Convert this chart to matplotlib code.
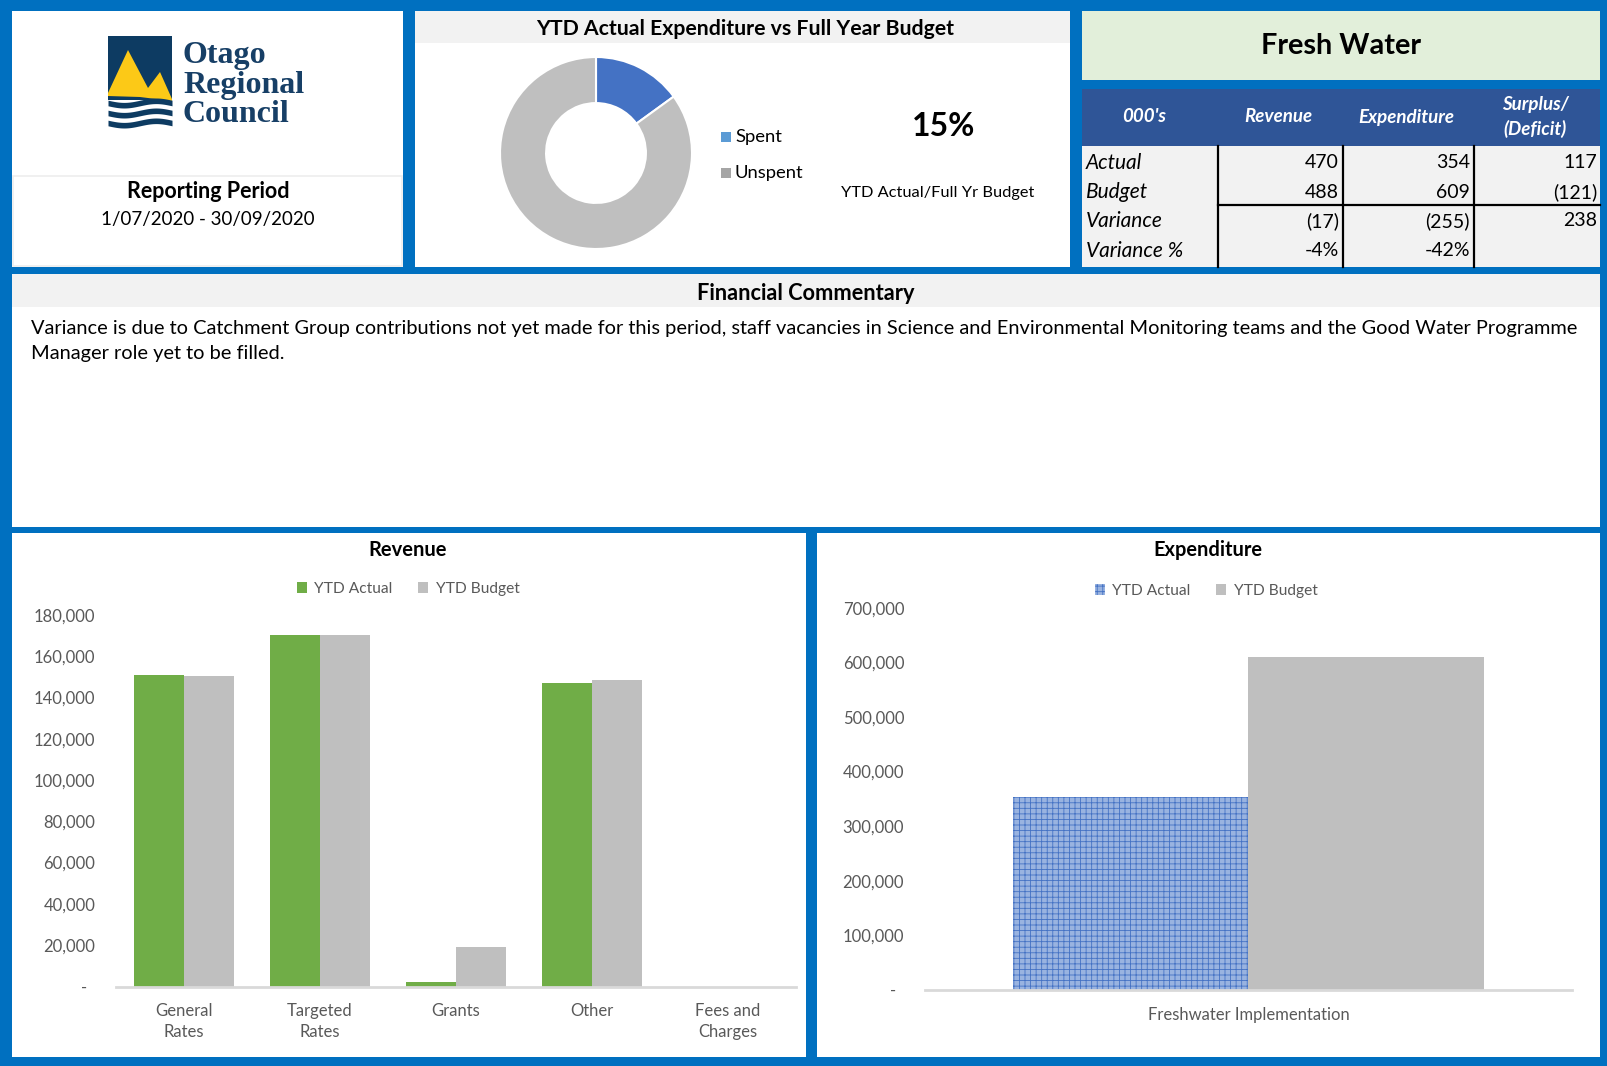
import numpy as np
import matplotlib.pyplot as plt
from matplotlib.patches import Rectangle, Polygon

#font close to the Calibri look of the original sheet
plt.rcParams['font.family'] = ['Lato', 'DejaVu Sans']
plt.rcParams['hatch.linewidth'] = 0.6

#revenue chart data (dollars)
rev_categories = ['General\nRates', 'Targeted\nRates', 'Grants', 'Other',
                  'Fees and\nCharges']
rev_actual = [151000, 170300, 2000, 147000, 0]
rev_budget = [150500, 170000, 19000, 148300, 0]

#expenditure chart data (dollars)
exp_categories = ['Freshwater Implementation']
exp_actual = [354000]
exp_budget = [609000]

#donut - ytd actual against full year budget (%)
donut_labels = ['Spent', 'Unspent']
donut_values = [15, 85]

#summary table (000's)
table_header = ["000's", 'Revenue', 'Expenditure', 'Surplus/\n(Deficit)']
table_rows = ['Actual', 'Budget', 'Variance', 'Variance %']
table_revenue = ['470', '488', '(17)', '-4%']
table_expenditure = ['354', '609', '(255)', '-42%']
table_surplus = ['117', '(121)', '238', '']

commentary = ('Variance is due to Catchment Group contributions not yet made '
              'for this period, staff vacancies in Science and Environmental '
              'Monitoring teams and the Good Water Programme\n'
              'Manager role yet to be filled.')

BLUE = '#0070C0'
LIGHT = '#F2F2F2'
GREEN = '#70AD47'
GREY = '#BFBFBF'
TICK = '#595959'
NAVY = '#173F66'

W, H = 1608, 1066
fig = plt.figure(figsize=(W/100, H/100), dpi=100)
fig.patch.set_facecolor(BLUE)

#background axes in pixel units (y down) for the panels and text
bg = fig.add_axes([0, 0, 1, 1])
bg.set_xlim(0, W)
bg.set_ylim(H, 0)
bg.axis('off')


def box(x0, y0, x1, y1, color, **kw):
    bg.add_patch(Rectangle((x0, y0), x1-x0, y1-y0, facecolor=color,
                           edgecolor=kw.pop('edgecolor', 'none'), **kw))


def px_axes(x0, y0, x1, y1):
    return fig.add_axes([x0/W, 1-y1/H, (x1-x0)/W, (y1-y0)/H])


#panels
box(12, 11, 403, 267, 'white')
box(13, 176, 402, 266, 'white', edgecolor='#EDEDED', linewidth=1.2)
box(415, 11, 1070, 267, 'white')
box(415, 11, 1070, 43, LIGHT)
box(1082, 11, 1600, 80, '#E2EFDA')
box(1082, 89, 1600, 146, '#2F5597')
box(1082, 146, 1600, 267, LIGHT)
box(12, 274, 1600, 527, 'white')
box(12, 274, 1600, 307, LIGHT)
box(12, 533, 806, 1057, 'white')
box(817, 533, 1600, 1057, 'white')

#logo
box(108, 36, 172, 100, '#0D3B62')
bg.add_patch(Polygon([(108, 93), (128, 50), (148, 88), (160, 72),
                      (172, 99), (172, 101), (140, 97), (108, 96)],
                     closed=True, facecolor='#FCC917', edgecolor='none'))
wx = np.linspace(108, 172, 60)
for c in [103, 113, 123]:
    wave = c + 2.2*np.sin((wx-108)/64*2*np.pi)
    bg.fill_between(wx, wave-2.8, wave+2.8, color='#0D3B62', lw=0)
for i, word in enumerate(['Otago', 'Regional', 'Council']):
    bg.text(183, 56+29.5*i, word, family='Liberation Serif', weight='bold',
            fontsize=23, color=NAVY, va='center', ha='left')

bg.text(208, 192, 'Reporting Period', fontsize=15.5, weight='bold',
        ha='center', va='center')
bg.text(208, 219, '1/07/2020 - 30/09/2020', fontsize=13.5,
        ha='center', va='center')

#donut panel
bg.text(745, 29, 'YTD Actual Expenditure vs Full Year Budget', fontsize=15.3,
        weight='bold', ha='center', va='center')
dax = px_axes(500, 57, 692, 249)
dax.pie(donut_values, colors=['#4472C4', GREY], startangle=90,
        counterclock=False, radius=1,
        wedgeprops=dict(width=0.48, edgecolor='white', linewidth=1.5))
dax.set_xlim(-1, 1)
dax.set_ylim(-1, 1)
dax.set_aspect('equal')
dax.axis('off')
for i, (lab, col) in enumerate(zip(donut_labels, ['#5B9BD5', '#A5A5A5'])):
    yy = 137 + 36*i
    box(721, yy-5, 731, yy+5, col)
    bg.text(735, yy, lab, fontsize=13.3, va='center', ha='left')
bg.text(944, 126, f'{donut_values[0]}%', fontsize=23, weight='bold',
        ha='center', va='center')
bg.text(938, 193, 'YTD Actual/Full Yr Budget', fontsize=11.8,
        ha='center', va='center')

#fresh water header and summary table
bg.text(1341, 46, 'Fresh Water', fontsize=20.7, weight='bold',
        ha='center', va='center')
head_x = [1144, 1278, 1406, 1535]
for hx, lab in zip(head_x, table_header):
    bg.text(hx, 117, lab, fontsize=13.5, weight='bold', style='italic',
            color='white', ha='center', va='center', linespacing=1.45)
col_right = [1339, 1470, 1597]
row_y = [163, 192, 221, 251]
for j, col in enumerate([table_revenue, table_expenditure, table_surplus]):
    for yy, val in zip(row_y, col):
        bg.text(col_right[j], yy, val, fontsize=14, ha='right', va='center')
for yy, lab in zip(row_y, table_rows):
    bg.text(1086, yy, lab, fontsize=15, style='italic', ha='left',
            va='center')
for lx in [1218, 1343, 1474]:
    bg.plot([lx, lx], [146, 267], color='black', lw=1.6)
bg.plot([1218, 1600], [205, 205], color='black', lw=1.6)

#commentary
bg.text(806, 293, 'Financial Commentary', fontsize=15.7, weight='bold',
        ha='center', va='center')
bg.text(31, 341, commentary, fontsize=14.4, ha='left', va='center',
        linespacing=1.58)

#revenue chart
bg.text(408, 550, 'Revenue', fontsize=14.5, weight='bold', ha='center',
        va='center')
rax = px_axes(116, 614.7, 796, 986.5)
x = np.arange(len(rev_categories))
bw = 0.364
rax.bar(x - bw/2, rev_actual, bw, color=GREEN, label='YTD Actual')
rax.bar(x + bw/2, rev_budget, bw, color=GREY, label='YTD Budget')
rax.set_xlim(-0.5, len(x) - 0.5)
rax.set_ylim(0, 180000)
rticks = list(range(0, 180001, 20000))
rax.set_yticks(rticks)
rax.set_yticklabels(['-  ' if v == 0 else f'{v:,}' for v in rticks])
rax.set_xticks(x)
rax.set_xticklabels(rev_categories, linespacing=1.4)
rax.legend(loc='center', bbox_to_anchor=(408/W, 1-589/H),
           bbox_transform=fig.transFigure, ncol=2, frameon=False,
           fontsize=11.2, handlelength=0.65, handleheight=0.65,
           handletextpad=0.5, columnspacing=1.6, labelcolor=TICK)

#expenditure chart
bg.text(1208, 550, 'Expenditure', fontsize=14.4, weight='bold', ha='center',
        va='center')
eax = px_axes(925, 607.7, 1572, 990)
ex = np.arange(len(exp_categories))
eax.bar(ex - bw/2, exp_actual, bw, facecolor='#99B3E0', edgecolor='#4472C4',
        hatch='+++', linewidth=0, label='YTD Actual')
eax.bar(ex + bw/2, exp_budget, bw, color=GREY, label='YTD Budget')
eax.set_xlim(-0.5, len(ex) - 0.5)
eax.set_ylim(0, 700000)
eticks = list(range(0, 700001, 100000))
eax.set_yticks(eticks)
eax.set_yticklabels(['-  ' if v == 0 else f'{v:,}' for v in eticks])
eax.set_xticks(ex)
eax.set_xticklabels(exp_categories)
eax.legend(loc='center', bbox_to_anchor=(1206/W, 1-591/H),
           bbox_transform=fig.transFigure, ncol=2, frameon=False,
           fontsize=11.2, handlelength=0.65, handleheight=0.65,
           handletextpad=0.5, columnspacing=1.6, labelcolor=TICK)

#shared axis styling for the two bar charts
for ax in [rax, eax]:
    ax.set_facecolor('none')
    for s in ['top', 'left', 'right']:
        ax.spines[s].set_visible(False)
    ax.spines['bottom'].set_color('#D9D9D9')
    ax.spines['bottom'].set_linewidth(2)
    ax.tick_params(axis='y', length=0, colors=TICK, labelsize=12, pad=15)
    ax.tick_params(axis='x', length=0, colors=TICK, labelsize=12, pad=12)

fig.savefig('out.png', dpi=100, facecolor=BLUE)
